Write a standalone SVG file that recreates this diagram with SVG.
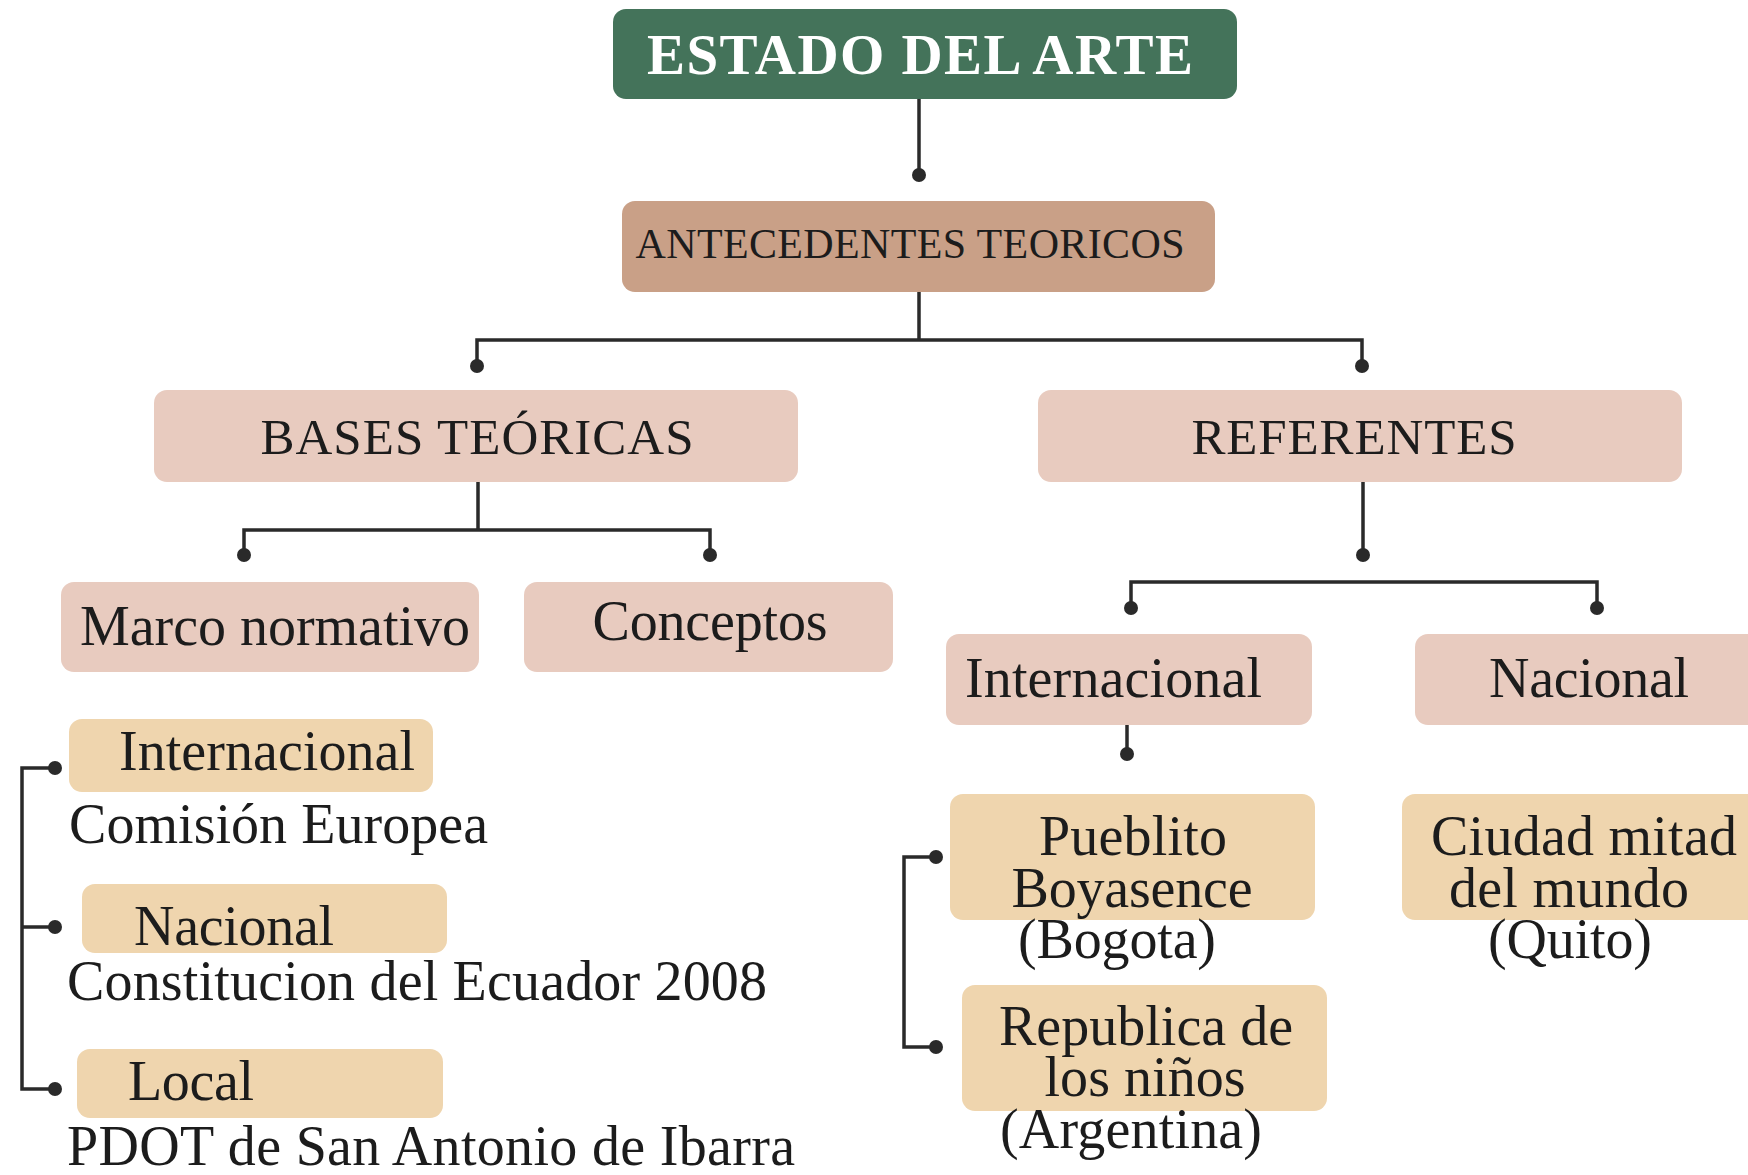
<svg xmlns="http://www.w3.org/2000/svg" width="1748" height="1175" viewBox="0 0 1748 1175">
<style>
.t{font-family:"Liberation Serif","Times New Roman",serif;fill:#1c1c1c;font-size:56px}
.c{text-anchor:middle}
.pink{fill:#E8CBBF}
.tan{fill:#EFD5AE}
.ln{fill:none;stroke:#2a2a2a;stroke-width:3.5}
.dot{fill:#2a2a2a}
</style>
<rect width="1748" height="1175" fill="#ffffff"/>
<g id="connectors">
<path class="ln" d="M919 99 V175"/>
<path class="ln" d="M919 292 V340 M477 366 V340 H1362 V366"/>
<path class="ln" d="M478 482 V530 M244 555 V530 H710 V555"/>
<path class="ln" d="M1363 482 V555 M1131 608 V582 H1597 V608"/>
<path class="ln" d="M1127 725 V754"/>
<path class="ln" d="M55 768 H22 V1089 H55 M22 927 H55"/>
<path class="ln" d="M936 857 H904 V1047 H936"/>
<circle class="dot" cx="919" cy="175" r="7"/>
<circle class="dot" cx="477" cy="366" r="7"/>
<circle class="dot" cx="1362" cy="366" r="7"/>
<circle class="dot" cx="244" cy="555" r="7"/>
<circle class="dot" cx="710" cy="555" r="7"/>
<circle class="dot" cx="1363" cy="555" r="7"/>
<circle class="dot" cx="1131" cy="608" r="7"/>
<circle class="dot" cx="1597" cy="608" r="7"/>
<circle class="dot" cx="1127" cy="754" r="7"/>
<circle class="dot" cx="55" cy="768" r="7"/>
<circle class="dot" cx="55" cy="927" r="7"/>
<circle class="dot" cx="55" cy="1089" r="7"/>
<circle class="dot" cx="936" cy="857" r="7"/>
<circle class="dot" cx="936" cy="1047" r="7"/>
</g>
<g id="estado">
<rect x="613" y="9" width="624" height="90" rx="13" fill="#44735A"/>
<text class="t c" x="920" y="74" style="fill:#ffffff;font-weight:bold;font-size:57px" textLength="546">ESTADO DEL ARTE</text>
</g>
<g id="antecedentes">
<rect x="622" y="201" width="593" height="91" rx="13" fill="#C9A087"/>
<text class="t c" x="910" y="258" style="font-size:42px" textLength="549">ANTECEDENTES TEORICOS</text>
</g>
<g id="bases">
<rect class="pink" x="154" y="390" width="644" height="92" rx="13"/>
<text class="t c" x="477" y="454" style="font-size:51px" textLength="433">BASES TEÓRICAS</text>
</g>
<g id="referentes">
<rect class="pink" x="1038" y="390" width="644" height="92" rx="13"/>
<text class="t c" x="1354" y="454" style="font-size:51px" textLength="325">REFERENTES</text>
</g>
<g id="marco">
<rect class="pink" x="61" y="582" width="418" height="90" rx="13"/>
<text class="t" x="80" y="645" textLength="390">Marco normativo</text>
</g>
<g id="conceptos">
<rect class="pink" x="524" y="582" width="369" height="90" rx="13"/>
<text class="t c" x="710" y="640" textLength="235">Conceptos</text>
</g>
<g id="ref-internacional">
<rect class="pink" x="946" y="634" width="366" height="91" rx="13"/>
<text class="t" x="965" y="697" textLength="297">Internacional</text>
</g>
<g id="ref-nacional">
<rect class="pink" x="1415" y="634" width="350" height="91" rx="13"/>
<text class="t c" x="1589" y="697" textLength="200">Nacional</text>
</g>
<g id="pueblito">
<rect class="tan" x="950" y="794" width="365" height="126" rx="13"/>
<text class="t c" x="1133" y="855" textLength="188">Pueblito</text>
<text class="t c" x="1132" y="907" textLength="241">Boyasence</text>
<text class="t c" x="1117" y="958" textLength="198">(Bogota)</text>
</g>
<g id="republica">
<rect class="tan" x="962" y="985" width="365" height="126" rx="13"/>
<text class="t c" x="1146" y="1045" textLength="294">Republica de</text>
<text class="t c" x="1145" y="1096" textLength="201">los niños</text>
<text class="t c" x="1131" y="1148" textLength="262">(Argentina)</text>
</g>
<g id="ciudad">
<rect class="tan" x="1402" y="794" width="360" height="126" rx="13"/>
<text class="t c" x="1584" y="855" textLength="306">Ciudad mitad</text>
<text class="t c" x="1569" y="907" textLength="240">del mundo</text>
<text class="t c" x="1570" y="958" textLength="164">(Quito)</text>
</g>
<g id="mn-internacional">
<rect class="tan" x="69" y="719" width="364" height="73" rx="13"/>
<text class="t" x="119" y="770" textLength="296">Internacional</text>
<text class="t" x="69" y="843" textLength="419">Comisión Europea</text>
</g>
<g id="mn-nacional">
<rect class="tan" x="82" y="884" width="365" height="69" rx="13"/>
<text class="t" x="134" y="945" textLength="200">Nacional</text>
<text class="t" x="67" y="1000" textLength="700">Constitucion del Ecuador 2008</text>
</g>
<g id="mn-local">
<rect class="tan" x="77" y="1049" width="366" height="69" rx="13"/>
<text class="t" x="128" y="1100" textLength="126">Local</text>
<text class="t" x="67" y="1165" textLength="728">PDOT de San Antonio de Ibarra</text>
</g>
</svg>
